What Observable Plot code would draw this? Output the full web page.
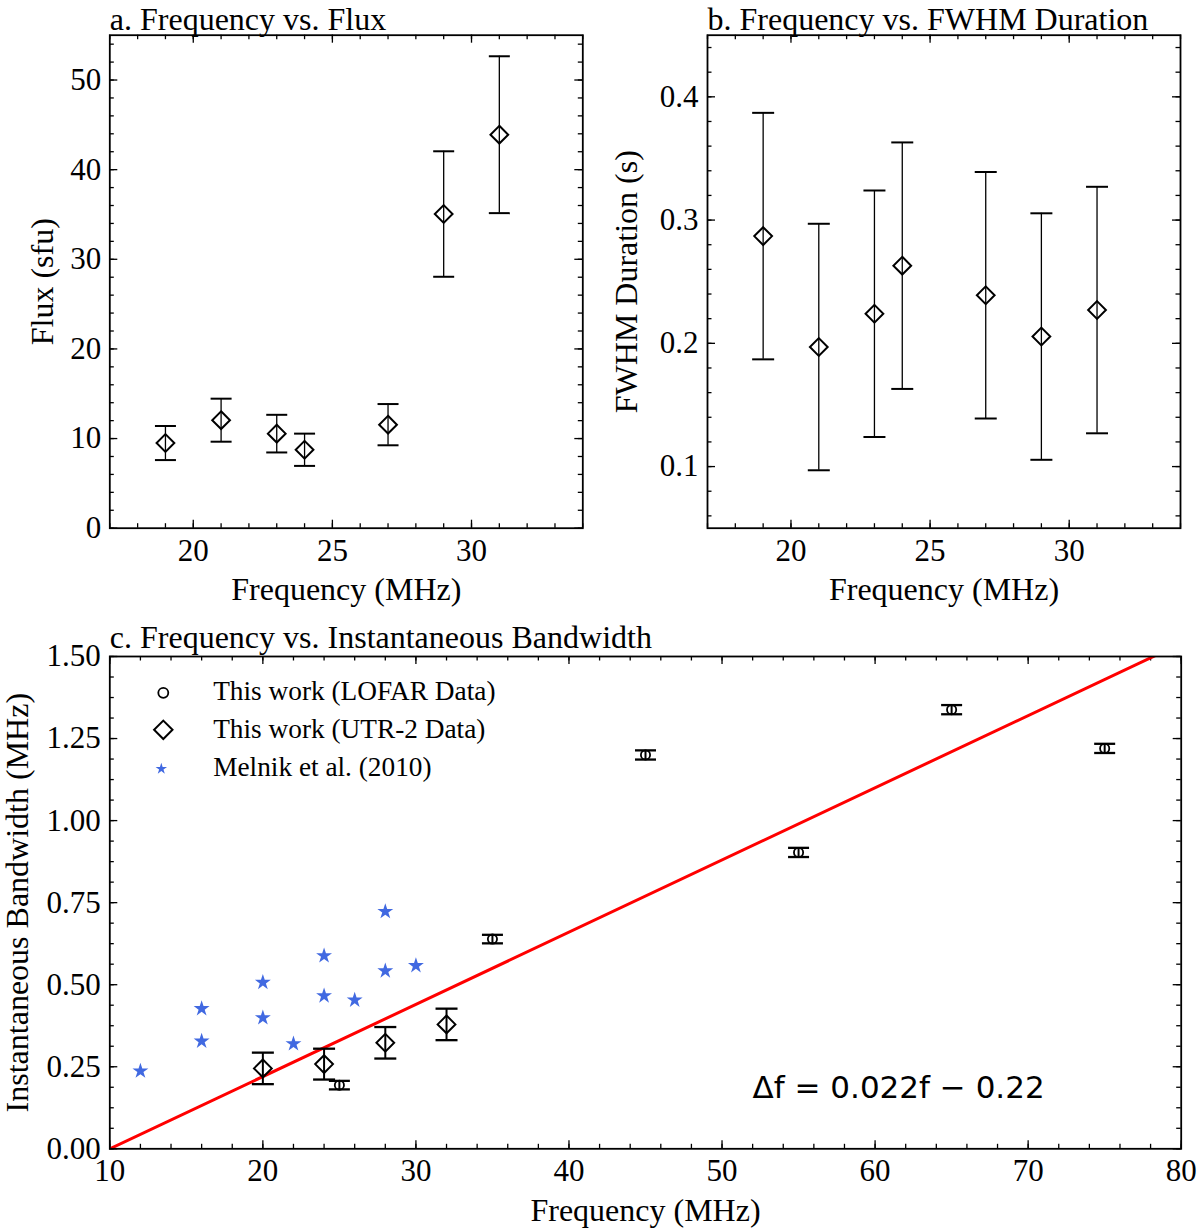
<!DOCTYPE html>
<html><head><meta charset="utf-8">
<script src="https://cdn.jsdelivr.net/npm/d3@7"></script>
<script src="https://cdn.jsdelivr.net/npm/@observablehq/plot@0.6"></script>
<style>
html,body{margin:0;padding:0;background:#fff;}
#fig{position:relative;width:1200px;height:1230px;background:#fff;overflow:hidden;}
</style></head><body><div id="fig"></div>
<script>
// ---------------- data ----------------
// Panels a and b share the UTR-2 frequencies
const utr2Freq = [19, 21, 23, 24, 27, 29, 31];
const fluxVal  = [9.5, 12.05, 10.55, 8.75, 11.55, 35.05, 43.9];
const fluxErr  = [1.9, 2.4, 2.1, 1.8, 2.3, 7.0, 8.75];
const fwhmVal  = [0.287, 0.197, 0.224, 0.263, 0.239, 0.2055, 0.227];
const fwhmErr  = [0.1, 0.1, 0.1, 0.1, 0.1, 0.1, 0.1];

// Panel c
const lofarFreq = [25, 35, 45, 55, 65, 75];
const lofarBw   = [0.194, 0.639, 1.200, 0.903, 1.338, 1.220];
const lofarErr  = [0.013, 0.013, 0.014, 0.014, 0.014, 0.014];

const utrFreqC = [20, 24, 28, 32];
const utrBwC   = [0.245, 0.258, 0.323, 0.379];
const utrErrC  = [0.048, 0.047, 0.048, 0.048];

const melnikFreq = [12, 16, 16, 20, 20, 22, 24, 24, 26, 28, 28, 30];
const melnikBw   = [0.237, 0.427, 0.328, 0.507, 0.399, 0.320, 0.588, 0.466, 0.453, 0.723, 0.542, 0.558];

const fitSlope = 0.022, fitIntercept = -0.22;
const fitFreqRange = [10, 80];
const fitLabel = "Δf = 0.022f − 0.22";

const legendLabels = ["This work (LOFAR Data)", "This work (UTR-2 Data)", "Melnik et al. (2010)"];

const titles = ["a. Frequency vs. Flux", "b. Frequency vs. FWHM Duration", "c. Frequency vs. Instantaneous Bandwidth"];
const xLabel = "Frequency (MHz)";
const yLabels = ["Flux (sfu)", "FWHM Duration (s)", "Instantaneous Bandwidth (MHz)"];

const xTicksAB = [20, 25, 30];
const yTicksA = [0, 10, 20, 30, 40, 50];
const yTicksB = [0.1, 0.2, 0.3, 0.4];
const xTicksC = [10, 20, 30, 40, 50, 60, 70, 80];
const yTicksC = [0, 0.25, 0.5, 0.75, 1.0, 1.25, 1.5];

// ---------------- helpers ----------------
const SERIF = "Liberation Serif, 'Times New Roman', serif";
const capSymbol = {draw(ctx, size) { const h = Math.sqrt(size / Math.PI); ctx.moveTo(-h, 0); ctx.lineTo(h, 0); }};

function rows(xs, ys, es) { return xs.map((x, i) => ({x, y: ys[i], e: es ? es[i] : 0})); }

function frameTicks(xMaj, xMin, yMaj, yMin, fw, fh) {
  const M = 8, m = 4.5, sw = 1.3;
  const id = d => d;
  return [
    Plot.tickX(xMin, {x: id, insetTop: fh - m, strokeWidth: sw}),
    Plot.tickX(xMin, {x: id, insetBottom: fh - m, strokeWidth: sw}),
    Plot.tickX(xMaj, {x: id, insetTop: fh - M, strokeWidth: sw}),
    Plot.tickX(xMaj, {x: id, insetBottom: fh - M, strokeWidth: sw}),
    Plot.tickY(yMin, {y: id, insetRight: fw - m, strokeWidth: sw}),
    Plot.tickY(yMin, {y: id, insetLeft: fw - m, strokeWidth: sw}),
    Plot.tickY(yMaj, {y: id, insetRight: fw - M, strokeWidth: sw}),
    Plot.tickY(yMaj, {y: id, insetLeft: fw - M, strokeWidth: sw})
  ];
}

function errorBars(data, stemW, capW, capR) {
  return [
    Plot.ruleX(data, {x: "x", y1: d => d.y - d.e, y2: d => d.y + d.e, stroke: "black", strokeWidth: stemW}),
    Plot.dot(data, {x: "x", y: d => d.y + d.e, symbol: capSymbol, r: capR, stroke: "black", strokeWidth: capW}),
    Plot.dot(data, {x: "x", y: d => d.y - d.e, symbol: capSymbol, r: capR, stroke: "black", strokeWidth: capW})
  ];
}

function labels(title, ylabel, yDx, titleDy) {
  return [
    Plot.text([title], {frameAnchor: "top-left", dy: titleDy, textAnchor: "start", lineAnchor: "bottom", fontSize: 32, fontFamily: SERIF, fill: "black"}),
    Plot.text([xLabel], {frameAnchor: "bottom", dy: 72, textAnchor: "middle", lineAnchor: "bottom", fontSize: 32, fontFamily: SERIF, fill: "black"}),
    Plot.text([ylabel], {frameAnchor: "left", dx: yDx, rotate: -90, textAnchor: "middle", lineAnchor: "bottom", fontSize: 32, fontFamily: SERIF, fill: "black"})
  ];
}

const fig = document.getElementById("fig");
function place(svg, left, top) {
  svg.style.position = "absolute";
  svg.style.left = left + "px";
  svg.style.top = top + "px";
  fig.appendChild(svg);
}

const baseStyle = {fontFamily: SERIF, fontSize: "31px", background: "transparent", color: "black", overflow: "visible"};

// ---------------- panel a ----------------
{
  const W = 600, H = 610, mL = 109.3, mR = 17.7, mT = 34.7, mB = 82.3;
  const fw = W - mL - mR, fh = H - mT - mB;
  const data = rows(utr2Freq, fluxVal, fluxErr);
  const svg = Plot.plot({
    width: W, height: H, marginLeft: mL, marginRight: mR, marginTop: mT, marginBottom: mB,
    style: baseStyle,
    x: {domain: [17, 34], ticks: xTicksAB, tickSize: 0, tickPadding: 10.3, tickFormat: d => String(d), label: null},
    y: {domain: [0, 55], ticks: yTicksA, tickSize: 0, tickPadding: 8.5, tickFormat: d => String(d), label: null},
    marks: [
      ...frameTicks(xTicksAB, d3.range(17, 34.5, 1), yTicksA, d3.range(0, 55.5, 2), fw, fh),
      ...errorBars(data, 1.3, 2, 10.5),
      Plot.dot(data, {x: "x", y: "y", symbol: "diamond2", r: 8, stroke: "black", strokeWidth: 2, fill: "none"}),
      ...labels(titles[0], yLabels[0], -57, -5.5),
      Plot.frame({stroke: "black", strokeWidth: 1.8})
    ]
  });
  place(svg, 0, 0);
}

// ---------------- panel b ----------------
{
  const W = 600, H = 610, mL = 107, mR = 20, mT = 34.7, mB = 82.3;
  const fw = W - mL - mR, fh = H - mT - mB;
  const data = rows(utr2Freq, fwhmVal, fwhmErr);
  const svg = Plot.plot({
    width: W, height: H, marginLeft: mL, marginRight: mR, marginTop: mT, marginBottom: mB,
    style: baseStyle,
    x: {domain: [17, 34], ticks: xTicksAB, tickSize: 0, tickPadding: 10.3, tickFormat: d => String(d), label: null},
    y: {domain: [0.05, 0.45], ticks: yTicksB, tickSize: 0, tickPadding: 9, tickFormat: d => d.toFixed(1), label: null},
    marks: [
      ...frameTicks(xTicksAB, d3.range(17, 34.5, 1), yTicksB, d3.range(0.06, 0.451, 0.02), fw, fh),
      ...errorBars(data, 1.3, 2, 11),
      Plot.dot(data, {x: "x", y: "y", symbol: "diamond2", r: 8, stroke: "black", strokeWidth: 2, fill: "none"}),
      ...labels(titles[1], yLabels[1], -70.5, -5.5),
      Plot.frame({stroke: "black", strokeWidth: 1.8})
    ]
  });
  place(svg, 600, 0);
}

// ---------------- panel c ----------------
{
  const W = 1200, H = 620, mL = 109.3, mR = 19.3, mT = 46, mB = 81.7;
  const fw = W - mL - mR, fh = H - mT - mB;
  const lofar = rows(lofarFreq, lofarBw, lofarErr);
  const utr = rows(utrFreqC, utrBwC, utrErrC);
  const melnik = rows(melnikFreq, melnikBw);
  const legX = 53.5, legY = [36.3, 73.3, 112.3];
  const svg = Plot.plot({
    width: W, height: H, marginLeft: mL, marginRight: mR, marginTop: mT, marginBottom: mB,
    style: baseStyle,
    x: {domain: [10, 80], ticks: xTicksC, tickSize: 0, tickPadding: 10.3, tickFormat: d => String(d), label: null},
    y: {domain: [0, 1.5], ticks: yTicksC, tickSize: 0, tickPadding: 9, tickFormat: d => d.toFixed(2), label: null},
    marks: [
      ...frameTicks(xTicksC, d3.range(10, 80.5, 2), yTicksC, d3.range(0, 1.5001, 0.0625), fw, fh),
      Plot.line(fitFreqRange, {x: d => d, y: d => fitSlope * d + fitIntercept, stroke: "red", strokeWidth: 3, clip: true}),
      Plot.dot(melnik, {x: "x", y: "y", symbol: "star", r: 5, fill: "#4169E1", stroke: "none"}),
      ...errorBars(utr, 2, 2.3, 11),
      Plot.dot(utr, {x: "x", y: "y", symbol: "diamond2", r: 8, stroke: "black", strokeWidth: 2, fill: "none"}),
      ...errorBars(lofar, 2, 2.3, 10.5),
      Plot.dot(lofar, {x: "x", y: "y", symbol: "circle", r: 4.6, stroke: "black", strokeWidth: 1.8, fill: "none"}),
      // legend
      Plot.dot([legendLabels[0]], {frameAnchor: "top-left", dx: legX, dy: legY[0], symbol: "circle", r: 5, stroke: "black", strokeWidth: 1.8, fill: "none"}),
      Plot.dot([legendLabels[1]], {frameAnchor: "top-left", dx: legX, dy: legY[1], symbol: "diamond2", r: 8.3, stroke: "black", strokeWidth: 2, fill: "none"}),
      Plot.dot([legendLabels[2]], {frameAnchor: "top-left", dx: legX - 2, dy: legY[2], symbol: "star", r: 3.6, fill: "#4169E1", stroke: "none"}),
      Plot.text([legendLabels.join("\n")], {frameAnchor: "top-left", dx: 103.4, dy: 119, textAnchor: "start", lineAnchor: "bottom", lineHeight: 1.392, fontSize: 27.3, fontFamily: SERIF, fill: "black"}),
      Plot.text([fitLabel], {frameAnchor: "top-left", dx: 642.7, dy: 441.6, textAnchor: "start", lineAnchor: "bottom", fontSize: 31, fontFamily: "DejaVu Sans", fill: "black"}),
      ...labels(titles[2], yLabels[2], -81.5, -9),
      Plot.frame({stroke: "black", strokeWidth: 1.8})
    ]
  });
  place(svg, 0, 610);
}
</script>
</body></html>
